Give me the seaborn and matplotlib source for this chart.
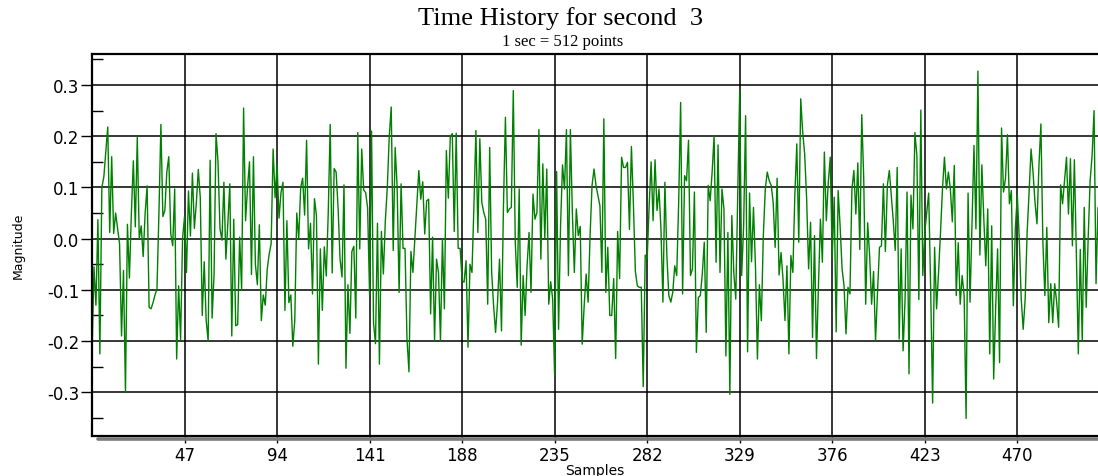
import numpy as np
import pandas as pd
import matplotlib
matplotlib.use("Agg")
import matplotlib.pyplot as plt
import seaborn as sns
from matplotlib.lines import Line2D

# Text and axis setup
title = "Time History for second  3"
subtitle = "1 sec = 512 points"
x_label = "Samples"
y_label = "Magnitude"
x_ticks = [47, 94, 141, 188, 235, 282, 329, 376, 423, 470]
y_ticks = [0.3, 0.2, 0.1, 0.0, -0.1, -0.2, -0.3]
y_tick_labels = ["0.3", "0.2", "0.1", "0.0", "-0.1", "-0.2", "-0.3"]
y_minor_ticks = [0.35, 0.25, 0.15, 0.05, -0.05, -0.15, -0.25, -0.35]

# Samples 0..146
magnitude_a = [
    -0.23, -0.055, -0.13, 0.037, -0.225, 0.10, 0.12, 0.17, 0.218, 0.012,
    0.16, 0.01, 0.05, 0.02, -0.01, -0.19, -0.062, -0.30, 0.028, -0.077,
    0.05, 0.152, 0.023, 0.198, 0.0, 0.025, -0.035, 0.05, 0.103, -0.134,
    -0.137, -0.125, -0.11, -0.098, 0.05, 0.223, 0.043, 0.055, 0.13, 0.16,
    0.01, -0.014, 0.097, -0.235, -0.092, -0.197, 0.0, 0.043, -0.066, 0.093,
    0.005, 0.128, 0.02, 0.07, 0.135, 0.08, -0.15, -0.045, -0.16, -0.20,
    0.153, -0.155, -0.07, 0.205, 0.15, 0.02, -0.003, 0.11, -0.04, 0.03,
    0.107, -0.19, 0.038, -0.17, -0.168, 0.003, -0.10, 0.255, 0.035, 0.10,
    0.15, -0.07, 0.16, -0.05, -0.09, 0.027, -0.16, -0.11, -0.13, -0.06,
    -0.03, -0.01, 0.175, 0.08, 0.145, 0.04, 0.09, 0.11, -0.14, 0.035,
    -0.125, -0.11, -0.21, -0.16, 0.05, 0.0, 0.1, 0.118, 0.046, 0.192,
    -0.02, 0.03, -0.108, 0.078, 0.045, -0.245, -0.02, -0.14, -0.016, -0.073,
    0.05, 0.223, -0.067, 0.137, 0.13, 0.06, -0.04, -0.075, 0.105, -0.253,
    -0.09, -0.185, -0.025, -0.015, -0.155, 0.207, -0.02, 0.175, 0.095, 0.09,
    0.06, -0.11, 0.21, -0.165, -0.205, 0.03, -0.245,
]
# Samples 147..243
magnitude_b = [
    0.014, -0.069, 0.035, 0.10, 0.2, 0.257, -0.023, 0.178, 0.10, -0.105,
    0.107, -0.019, -0.019, -0.196, -0.26, -0.025, -0.066, 0.0, 0.064, 0.133,
    0.077, 0.111, 0.009, 0.074, 0.077, -0.147, 0.003, -0.2, -0.04, -0.066,
    -0.2, 0.0, -0.137, 0.172, 0.079, 0.2, 0.205, 0.014, 0.206, -0.019,
    -0.019, -0.082, -0.085, -0.043, -0.212, -0.05, -0.066, 0.064, 0.211,
    0.012, 0.195, 0.071, 0.051, 0.038, -0.128, 0.178, -0.066, -0.131, -0.183,
    -0.124, -0.04, -0.18, 0.064, 0.237, 0.051, 0.058, 0.061, 0.289, -0.007,
    -0.095, 0.097, -0.208, -0.072, -0.15, -0.053, 0.012, -0.105, 0.087, 0.038,
    0.051, 0.213, -0.04, 0.146, 0.0, 0.136, -0.128, -0.084, -0.118, -0.269,
    0.131, -0.177, 0.025, 0.144, 0.097, 0.213, -0.072, 0.213,
]
# Samples 244..339
magnitude_c = [
    0.051, -0.066, 0.058, 0.006, 0.024, -0.206, -0.131, -0.069, -0.124, 0.006,
    0.104, 0.136, 0.104, 0.084, 0.064, -0.066, 0.234, -0.105, -0.017, -0.15,
    -0.15, -0.078, -0.234, 0.014, -0.078, 0.159, 0.139, 0.139, 0.149, 0.018,
    0.18, 0.068, -0.064, -0.092, -0.095, -0.095, -0.289, -0.032, -0.04, 0.064,
    0.15, 0.035, 0.154, 0.055, 0.097, 0.019, -0.124, 0.11,
    -0.033, -0.111, -0.124, -0.105, -0.053, -0.072, 0.071, 0.266, -0.108, 0.123,
    0.113, 0.192, -0.072, -0.059, 0.091, -0.222, -0.115, -0.111, -0.069, -0.007,
    -0.183, 0.104, 0.074, 0.13, 0.201, -0.046, 0.183, -0.066, 0.097, 0.058,
    -0.229, 0.012, -0.304, 0.045, -0.066, -0.118, 0.091, 0.289, -0.072, 0.025,
    0.24, -0.221, 0.089, -0.045, 0.061, -0.053, -0.235, -0.09,
]
# Samples 340..435
magnitude_d = [
    -0.16, 0.006, 0.097, 0.13, 0.113, 0.104, 0.071, -0.017, 0.118, -0.071,
    -0.027, -0.079, -0.16, -0.053, -0.225, -0.033, -0.066, 0.084, 0.185, -0.007,
    0.273, 0.208, 0.165, 0.078, -0.059, 0.032, -0.193, 0.006, -0.234, -0.092,
    0.038, -0.046, 0.169, 0.035, 0.11, 0.159, -0.038, 0.081, -0.182, 0.094,
    0.025, -0.059, -0.092, -0.186, -0.095, -0.108, 0.097, 0.133,
    0.048, 0.148, -0.021, 0.242, 0.117, -0.128, 0.031, -0.033, -0.128, -0.064,
    -0.2, -0.105, -0.017, -0.014, 0.107, -0.025, 0.104, 0.133, 0.084, 0.035,
    -0.023, 0.139, -0.196, -0.02, -0.219, -0.118, 0.091, -0.264, 0.085, 0.019,
    0.207, 0.162, -0.119, 0.251, -0.072, 0.012, 0.051, 0.089, -0.098, -0.321,
    -0.017, -0.137, -0.066, 0.012, 0.097, 0.159, 0.097, 0.13,
]
# Samples 436..511
magnitude_e = [
    0.097, 0.033, 0.143, -0.111, -0.008, -0.128, -0.072, -0.111, -0.351, 0.089,
    -0.124, 0.025, 0.182, 0.019, 0.327, -0.032, 0.144, 0.038, -0.053, 0.058,
    -0.225, 0.025, -0.274, -0.137, -0.02, -0.242, 0.216, 0.091, 0.117, 0.203,
    0.068, 0.094, -0.131, 0.019, 0.085, 0.0, -0.118, -0.177, -0.118, 0.012,
    0.091, 0.175, 0.13, 0.071, 0.029, 0.143, 0.224, -0.007, -0.111, 0.022,
    -0.164, -0.088, -0.164, -0.088, -0.124, -0.173, 0.105, 0.068, 0.113, 0.159,
    0.048, 0.156, -0.014, 0.154, -0.027, -0.225, -0.021, -0.2, 0.061, -0.134,
    0.0, 0.113, 0.162, 0.25, -0.088, 0.061,
]

magnitude = magnitude_a + magnitude_b + magnitude_c + magnitude_d + magnitude_e
df = pd.DataFrame({"Samples": np.arange(len(magnitude)), "Magnitude": magnitude})

sns.set_style("white")
plt.rcParams["font.family"] = ["DejaVu Sans"]
plt.rcParams["text.color"] = "black"
plt.rcParams["axes.labelcolor"] = "black"
plt.rcParams["xtick.color"] = "black"
plt.rcParams["ytick.color"] = "black"

W, H = 1098, 477
fig = plt.figure(figsize=(W / 100, H / 100), dpi=100)
ax = fig.add_axes([92 / W, 1 - 437 / H, 1006 / W, 382 / H])

sns.lineplot(data=df, x="Samples", y="Magnitude", ax=ax, color="#008000", linewidth=1.0)

ax.set_xlim(0, 511)
ax.set_ylim(-0.3853, 0.3605)

ax.set_xticks(x_ticks)
ax.set_xticklabels([str(t) for t in x_ticks])
ax.set_yticks(y_ticks)
ax.set_yticklabels(y_tick_labels)
ax.set_yticks(y_minor_ticks, minor=True)

ax.grid(True, which="major", color="black", linewidth=1.1)
ax.tick_params(axis="y", which="major", direction="out", length=8, width=1, pad=1,
               labelsize=12, left=True)
ax.tick_params(axis="y", which="minor", direction="in", length=8, width=1, left=True)
ax.tick_params(axis="x", which="major", direction="out", length=5, width=1, pad=2.5,
               labelsize=12, bottom=True)

for side in ["left", "top", "bottom"]:
    ax.spines[side].set_color("black")
    ax.spines[side].set_linewidth(1.6)
ax.spines["right"].set_visible(False)

# grey drop shadow under the bottom frame line
fig.add_artist(Line2D([98 / W, 1.0], [1 - 440 / H, 1 - 440 / H], color="#7a7a7a", linewidth=2.6))

ax.set_xlabel(x_label, fontsize=10, va="top")
ax.xaxis.set_label_coords(0.5, -0.07)
ax.set_ylabel(y_label, fontsize=9)
ax.yaxis.set_label_coords(-0.0666, 0.5)

fig.text(561 / W, 1 - 19 / H, title, ha="center", va="center",
         family="Liberation Serif", fontsize=19)
fig.text(563 / W, 1 - 42 / H, subtitle, ha="center", va="center",
         family="Liberation Serif", fontsize=12)

fig.savefig("out.png", dpi=100)
